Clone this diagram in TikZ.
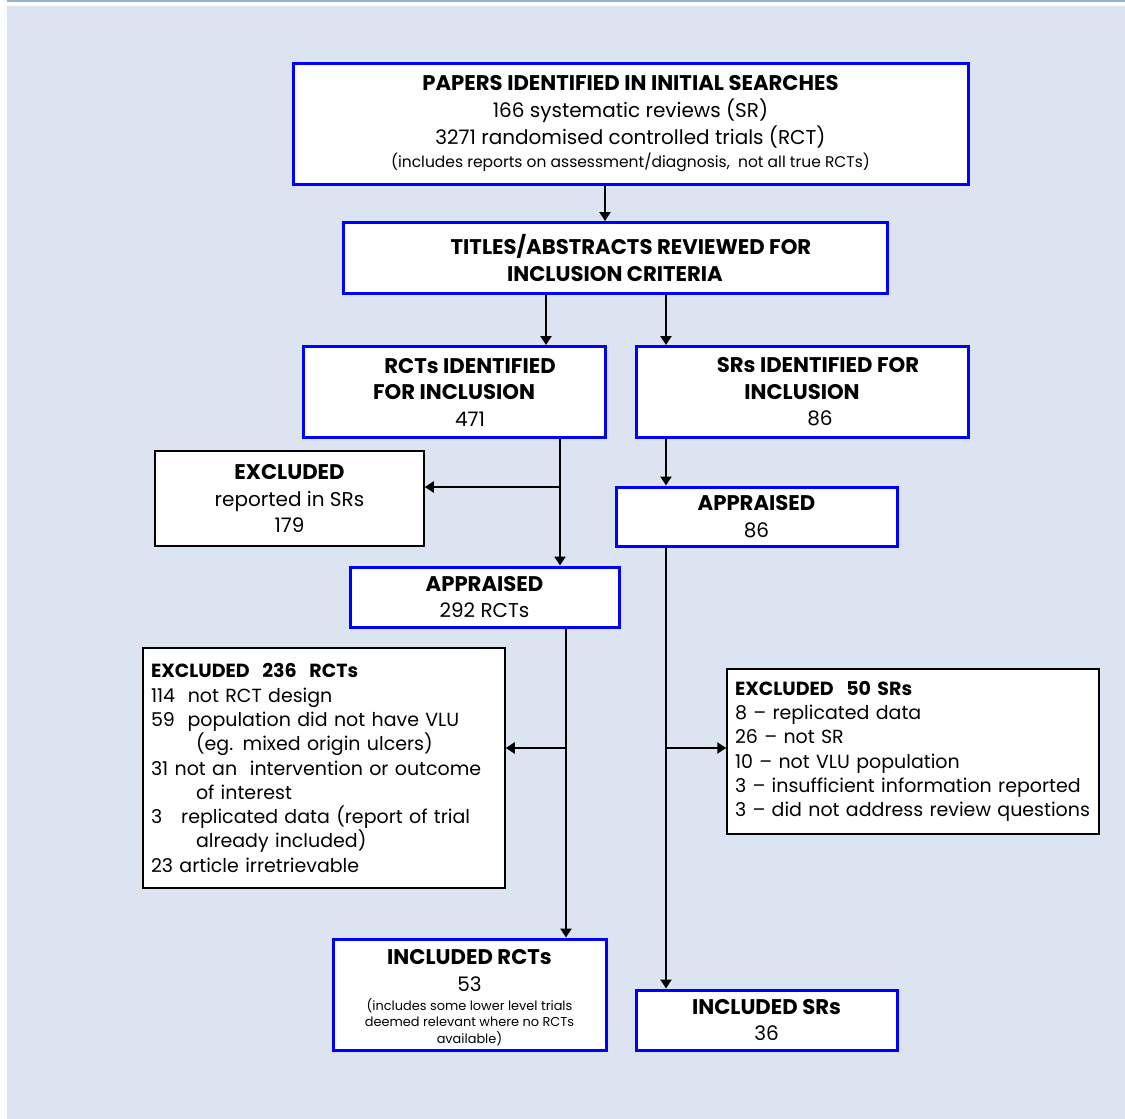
\documentclass[tikz,border=0pt]{standalone}
\usepackage{fontspec}
\setmainfont{Poppins}
\usetikzlibrary{arrows.meta}
\definecolor{bgblue}{HTML}{DBE4F0}
\definecolor{topline}{HTML}{95B3D7}
\definecolor{boxblue}{HTML}{0000FF}
\newcommand{\fs}{\fontsize{20}{26.5}\selectfont}
\newcommand{\hd}[1]{{\fontsize{21.2}{26.5}\selectfont\bfseries #1}}
\newcommand{\fsm}{\fontsize{15.5}{20}\selectfont}
\newcommand{\fst}{\fontsize{12.9}{16}\selectfont}
\newcommand{\fl}{\fontsize{19}{24.3}\selectfont}
\begin{document}
\begin{tikzpicture}[x=1pt,y=-1pt,
  bluebox/.style={draw=boxblue,line width=3pt,fill=white,inner sep=0pt,align=center,font=\fs},
  blackbox/.style={draw=black,line width=1.5pt,fill=white,inner sep=0pt,align=center,font=\fs},
  arr/.style={draw=black,line width=2.3pt,-{Triangle[length=9pt,width=11pt]}}]
\useasboundingbox (0,0) rectangle (1125,1119);
\fill[white] (0,0) rectangle (1125,1119);
\fill[bgblue] (7,6) rectangle (1125,1119);
\fill[topline] (7,0) rectangle (1125,2.2);
% boxes
\node[bluebox,minimum width=675pt,minimum height=121pt] (top) at (630.5,124)
  {\hd{PAPERS IDENTIFIED IN INITIAL SEARCHES}\\166 systematic reviews (SR)\\[0.5pt]3271 randomised controlled trials (RCT)\\[-3pt]\fsm(includes reports on assessment/diagnosis,\ \ not all true RCTs)};
\node[bluebox,minimum width=544pt,minimum height=71pt] (titles) at (615,258)
  {\hspace*{32pt}\hd{TITLES/ABSTRACTS REVIEWED FOR}\\\hd{INCLUSION CRITERIA}};
\node[bluebox,minimum width=302pt,minimum height=91pt] (rctid) at (454,392)
  {\hspace*{32pt}\hd{RCTs IDENTIFIED}\\\hd{FOR INCLUSION}\\\hspace*{32pt}471};
\node[bluebox,minimum width=332pt,minimum height=91pt] (srid) at (802,392)
  {\hspace*{32pt}\hd{SRs IDENTIFIED FOR}\\\hd{INCLUSION}\\\hspace*{36pt}86};
\node[blackbox,minimum width=269pt,minimum height=95pt] (exc1) at (289.5,498.5)
  {\hd{EXCLUDED}\\reported in SRs\\179};
\node[bluebox,minimum width=281pt,minimum height=59pt] (apprS) at (756.5,516.5)
  {\hd{APPRAISED}\\86};
\node[bluebox,minimum width=269pt,minimum height=60pt] (apprR) at (484.5,597)
  {\hd{APPRAISED}\\292 RCTs};
\node[blackbox,minimum width=362pt,minimum height=240pt,align=left,font=\fl,text width=346pt] (exc2) at (324,768)
  {\textbf{EXCLUDED\ \ 236\ \ RCTs}\\
   114\ \ not RCT design\\
   59\ \ population did not have VLU\\
   \hspace*{45pt}(eg. mixed origin ulcers)\\
   31 not an\ \ intervention or outcome\\
   \hspace*{45pt}of interest\\
   3\ \ \ replicated data (report of trial\\
   \hspace*{45pt}already included)\\
   23 article irretrievable};
\node[blackbox,minimum width=372pt,minimum height=165pt,align=left,font=\fl,text width=356pt] (exc3) at (913,751.5)
  {\textbf{EXCLUDED\ \ 50 SRs}\\
   8 -- replicated data\\
   26 -- not SR\\
   10 -- not VLU population\\
   3 -- insufficient information reported\\
   3 -- did not address review questions};
\node[bluebox,minimum width=273pt,minimum height=111pt] (incR) at (469.5,994.5)
  {\hd{INCLUDED RCTs}\\53\\[-7.5pt]{\fst\begin{tabular}[t]{@{}c@{}}(includes some lower level trials\\deemed relevant where no RCTs\\available)\\[-9pt]\end{tabular}}};
\node[bluebox,minimum width=261pt,minimum height=60pt] (incS) at (766.5,1020)
  {\hd{INCLUDED SRs}\\36};
% junctions
\coordinate (j1) at (560,487);
\coordinate (j2) at (566,748);
\coordinate (j3) at (666,748);
% connectors
\draw[arr] (top.south -| 605,0) -- (titles.north -| 605,0);
\draw[arr] (titles.south -| 546,0) -- (rctid.north -| 546,0);
\draw[arr] (titles.south -| 666,0) -- (srid.north -| 666,0);
\draw[arr] (rctid.south -| 560,0) -- (apprR.north -| 560,0);
\draw[arr] (j1) -- (exc1.east |- j1);
\draw[arr] (srid.south -| 666,0) -- (apprS.north -| 666,0);
\draw[arr] (apprR.south -| 566,0) -- (incR.north -| 566,0);
\draw[arr] (j2) -- (exc2.east |- j2);
\draw[arr] (apprS.south -| 666,0) -- (incS.north -| 666,0);
\draw[arr] (j3) -- (exc3.west |- j3);
\end{tikzpicture}
\end{document}
